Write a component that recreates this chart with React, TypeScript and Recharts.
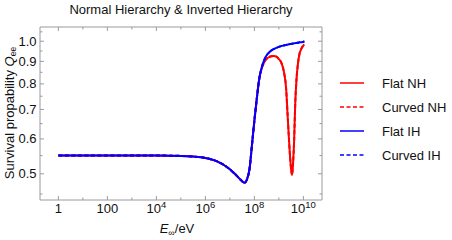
import { LineChart, Line, XAxis, YAxis } from 'recharts';

// x is log10(E / eV)
const energyExp = [
  0, 1, 2, 3, 4, 5, 5.5, 6, 6.5, 7, 7.2, 7.4, 7.5, 7.6, 7.7, 7.8, 7.9, 8.0, 8.1, 8.2, 8.3, 8.4, 8.5,
  8.6, 8.7, 8.8, 8.9, 9.0, 9.1, 9.2, 9.3, 9.35, 9.4, 9.45, 9.5, 9.54, 9.58, 9.62, 9.67, 9.72, 9.78,
  9.85, 9.92, 10.0, 10.04,
];

const flatNH = [
  0.55, 0.55, 0.55, 0.55, 0.55, 0.549, 0.547, 0.543, 0.533, 0.512, 0.5, 0.487, 0.481, 0.477, 0.486,
  0.512, 0.58, 0.66, 0.742, 0.822, 0.868, 0.896, 0.912, 0.92, 0.924, 0.925, 0.922, 0.911, 0.894,
  0.855, 0.775, 0.69, 0.615, 0.553, 0.512, 0.497, 0.53, 0.59, 0.728, 0.82, 0.89, 0.94, 0.962, 0.978,
  0.982,
];
const curvedNH = [...flatNH];

const flatIH = [
  0.55, 0.55, 0.55, 0.55, 0.55, 0.549, 0.547, 0.543, 0.533, 0.512, 0.5, 0.487, 0.481, 0.477, 0.486,
  0.512, 0.58, 0.66, 0.742, 0.822, 0.872, 0.906, 0.929, 0.943, 0.953, 0.96, 0.966, 0.971, 0.975,
  0.978, 0.981, 0.982, 0.984, 0.985, 0.986, 0.987, 0.988, 0.989, 0.99, 0.991, 0.992, 0.994, 0.995,
  0.997, 0.998,
];
const curvedIH = [...flatIH];

const xTicks = [0, 1, 2, 3, 4, 5, 6, 7, 8, 9, 10];
const yTicks = [0.45, 0.5, 0.55, 0.6, 0.65, 0.7, 0.75, 0.8, 0.85, 0.9, 0.95, 1.0, 1.05];

const series = [
  { key: 'flatNH', name: 'Flat NH', color: '#ff0000', dash: undefined, values: flatNH },
  { key: 'curvedNH', name: 'Curved NH', color: '#ff0000', dash: '4 2.5', values: curvedNH },
  { key: 'flatIH', name: 'Flat IH', color: '#0000ff', dash: undefined, values: flatIH },
  { key: 'curvedIH', name: 'Curved IH', color: '#0000ff', dash: '4 2.5', values: curvedIH },
];

const data = energyExp.map((e, i) => {
  const row: Record<string, number> = { logE: e };
  series.forEach((s) => {
    row[s.key] = s.values[i];
  });
  return row;
});

const FRAME = '#9a9a9a';
const FONT = '"Liberation Sans", Arial, sans-serif';
const xDomain = [-0.75, 10.76];
const yDomain = [0.436, 1.077];

// plot box (same numbers as the chart margins / axis sizes below)
const W = 452;
const H = 240;
const margin = { top: 27, right: 130, bottom: 0, left: 0 };
const yAxisWidth = 40;
const xAxisHeight = 40;
const plotLeft = margin.left + yAxisWidth;
const plotTop = margin.top;
const plotRight = W - margin.right;
const plotBottom = H - margin.bottom - xAxisHeight;

const isMajorX = (v: number) => v % 2 === 0;
const isMajorY = (v: number) => Math.abs(v * 10 - Math.round(v * 10)) < 1e-6;

// mirrored frame ticks on top/right edges
const frameX = (v: number) =>
  plotLeft + ((v - xDomain[0]) / (xDomain[1] - xDomain[0])) * (plotRight - plotLeft);
const frameY = (v: number) =>
  plotTop +
  ((Math.log(yDomain[1]) - Math.log(v)) / (Math.log(yDomain[1]) - Math.log(yDomain[0]))) *
    (plotBottom - plotTop);

const XTick = (props: any) => {
  const { x, y, payload } = props;
  const v = payload.value;
  const len = isMajorX(v) ? 4 : 2.5;
  return (
    <g>
      <line x1={x} x2={x} y1={y} y2={y - len} stroke={FRAME} />
      {isMajorX(v) && (
        <text x={x} y={y + 13} textAnchor="middle" fontSize={13} fill="#111" fontFamily={FONT}>
          {v === 0 ? '1' : v === 2 ? '100' : (
            <>
              10
              <tspan dy={-5} fontSize={9.5}>{v}</tspan>
            </>
          )}
        </text>
      )}
    </g>
  );
};

const YTick = (props: any) => {
  const { x, y, payload } = props;
  const v = payload.value;
  const len = isMajorY(v) ? 4 : 2.5;
  return (
    <g>
      <line x1={x} x2={x + len} y1={y} y2={y} stroke={FRAME} />
      {isMajorY(v) && (
        <text x={x - 3.5} y={y + 4.5} textAnchor="end" fontSize={13} fill="#111" fontFamily={FONT}>
          {v.toFixed(1)}
        </text>
      )}
    </g>
  );
};

export default function App() {
  return (
    <div style={{ position: 'absolute', left: 0, top: 0, width: W, height: H, background: '#fff' }}>
      <LineChart width={W} height={H} data={data} margin={margin}>
        <XAxis
          type="number"
          dataKey="logE"
          domain={xDomain}
          ticks={xTicks}
          interval={0}
          allowDataOverflow
          height={xAxisHeight}
          tickSize={0}
          tickMargin={0}
          tickLine={false}
          stroke={FRAME}
          tick={(p: any) => <XTick {...p} />}
        />
        <YAxis
          type="number"
          scale="log"
          domain={yDomain}
          ticks={yTicks}
          interval={0}
          allowDataOverflow
          width={yAxisWidth}
          tickSize={0}
          tickMargin={0}
          tickLine={false}
          stroke={FRAME}
          tick={(p: any) => <YTick {...p} />}
        />
        {series.map((s) => (
          <Line
            key={s.key}
            type="monotone"
            dataKey={s.key}
            name={s.name}
            stroke={s.color}
            strokeWidth={2}
            strokeDasharray={s.dash}
            dot={false}
            isAnimationActive={false}
          />
        ))}
      </LineChart>

      <svg
        width={W}
        height={H}
        style={{ position: 'absolute', left: 0, top: 0, pointerEvents: 'none' }}
        fontFamily={FONT}
      >
        {/* top and right edges of the frame */}
        <line x1={plotLeft} x2={plotRight} y1={plotTop} y2={plotTop} stroke={FRAME} />
        <line x1={plotRight} x2={plotRight} y1={plotTop} y2={plotBottom} stroke={FRAME} />
        {xTicks.map((t) => (
          <line
            key={`tx${t}`}
            x1={frameX(t)}
            x2={frameX(t)}
            y1={plotTop}
            y2={plotTop + (isMajorX(t) ? 4 : 2.5)}
            stroke={FRAME}
          />
        ))}
        {yTicks.map((t) => (
          <line
            key={`ty${t}`}
            x1={plotRight}
            x2={plotRight - (isMajorY(t) ? 4 : 2.5)}
            y1={frameY(t)}
            y2={frameY(t)}
            stroke={FRAME}
          />
        ))}

        <text x={181} y={14} textAnchor="middle" fontSize={13} fill="#111">
          Normal Hierarchy &amp; Inverted Hierarchy
        </text>
        <text x={177} y={233} textAnchor="middle" fontSize={13} fill="#111">
          <tspan fontStyle="italic">E</tspan>
          <tspan fontSize={9} dy={3}>∞</tspan>
          <tspan dy={-3}>/eV</tspan>
        </text>
        <text
          x={14}
          y={113}
          textAnchor="middle"
          fontSize={13}
          fill="#111"
          transform="rotate(-90, 14, 113)"
        >
          Survival propability <tspan fontStyle="italic">Q</tspan>
          <tspan fontSize={8.5} dy={2}>ee</tspan>
        </text>
        {series.map((s, i) => {
          const y = 83 + i * 24;
          return (
            <g key={s.key}>
              <line x1={340} x2={364} y1={y} y2={y} stroke={s.color} strokeWidth={1.5} strokeDasharray={s.dash} />
              <text x={382} y={y + 4.5} fontSize={13} fill="#111">
                {s.name}
              </text>
            </g>
          );
        })}
      </svg>
    </div>
  );
}
